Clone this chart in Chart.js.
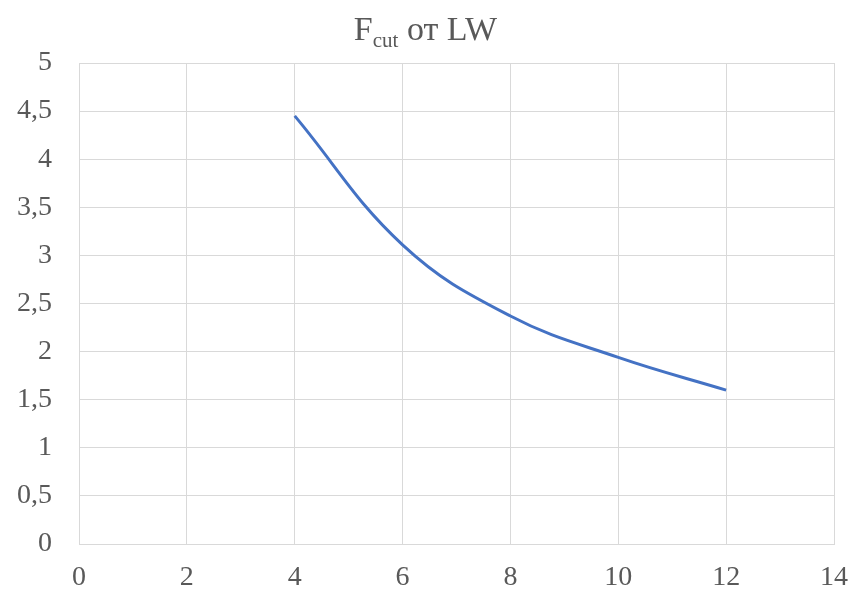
<!DOCTYPE html>
<html lang="ru">
<head>
    <meta charset="UTF-8">
    <title>Fcut от LW</title>
    <script src="https://cdn.jsdelivr.net/npm/chart.js"></script>
    <style>
        body { margin: 0; background: #fff; }
        .wrap { position: relative; width: 851px; height: 594px; }
        .title {
            position: absolute;
            top: 10px;
            left: 0;
            width: 851px;
            text-align: center;
            font-family: "Liberation Serif", "Times New Roman", serif;
            font-size: 34px;
            color: #595959;
        }
        .title sub { font-size: 21px; vertical-align: -7px; }
        canvas { position: absolute; left: 0; top: 0; }
    </style>
</head>
<body>
    <div class="wrap">
        <canvas id="chart" width="851" height="594"></canvas>
        <div class="title">F<sub>cut</sub> от LW</div>
    </div>
    <script>
        // LW values and Fcut
        const lwValues = [4, 6, 8, 10, 12];
        const fcutValues = [4.45, 3.11, 2.37, 1.94, 1.60];
        const xTicks = [0, 2, 4, 6, 8, 10, 12, 14];
        const yTicks = [0, 0.5, 1, 1.5, 2, 2.5, 3, 3.5, 4, 4.5, 5];

        const gridColor = '#d9d9d9';
        const textColor = '#595959';
        const tickFont = { family: '"Liberation Serif", "Times New Roman", serif', size: 28 };

        const points = lwValues.map((x, i) => ({ x: x, y: fcutValues[i] }));

        new Chart(document.getElementById('chart'), {
            type: 'scatter',
            data: {
                datasets: [{
                    data: points,
                    showLine: true,
                    borderColor: '#4472c4',
                    borderWidth: 3,
                    pointRadius: 0,
                    tension: 0.4,
                    fill: false
                }]
            },
            options: {
                responsive: false,
                animation: false,
                layout: { padding: { top: 63, right: 17, left: 0, bottom: 0 } },
                plugins: {
                    legend: { display: false },
                    tooltip: { enabled: false }
                },
                scales: {
                    x: {
                        type: 'linear',
                        min: 0,
                        max: 14,
                        afterBuildTicks: axis => { axis.ticks = xTicks.map(v => ({ value: v })); },
                        afterFit: axis => {
                            axis.height = 50;
                            axis.paddingLeft = 0;
                            axis.paddingRight = 0;
                        },
                        grid: { color: gridColor, drawTicks: false },
                        border: { color: gridColor },
                        ticks: { color: textColor, font: tickFont, padding: 17 }
                    },
                    y: {
                        min: 0,
                        max: 5,
                        afterBuildTicks: axis => { axis.ticks = yTicks.map(v => ({ value: v })); },
                        afterFit: axis => { axis.width = 79; },
                        grid: { color: gridColor, drawTicks: false },
                        border: { color: gridColor },
                        ticks: {
                            color: textColor,
                            font: tickFont,
                            padding: 27,
                            callback: v => String(v).replace('.', ',')
                        }
                    }
                }
            }
        });
    </script>
</body>
</html>
